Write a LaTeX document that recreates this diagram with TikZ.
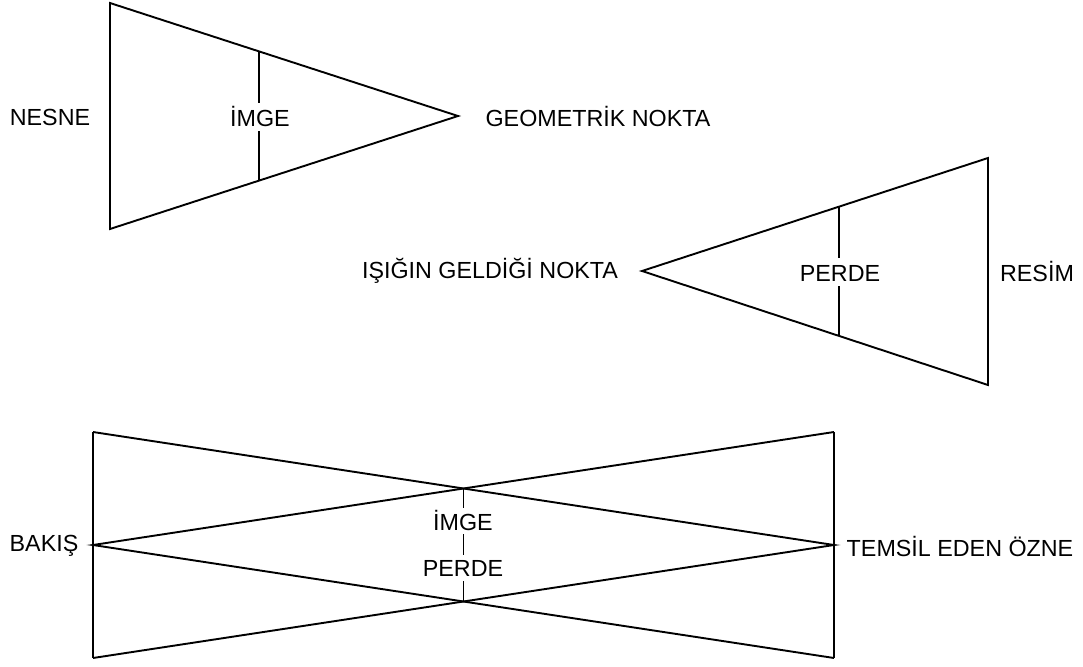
\documentclass[tikz,border=0pt]{standalone}
\usepackage{fontspec}
\setmainfont{Liberation Sans}
\begin{document}
\begin{tikzpicture}[x=1pt,y=-1pt,
  edge/.style={line width=1.9pt, line join=miter},
  lbl/.style={font=\fontsize{23.3}{27}\selectfont, inner sep=0pt},
  gaplbl/.style={lbl, text height=18pt, text depth=0pt, inner ysep=5pt}]
\useasboundingbox (0,0) rectangle (1083,666);
% top triangle
\coordinate (a1) at (110,3);
\coordinate (a2) at (110,229);
\coordinate (a3) at (458,116);
\draw[edge] (a1) -- (a3) -- (a2) -- cycle;
\coordinate (a4) at (259,51.6);
\coordinate (a5) at (259,180.4);
\node[gaplbl] (imge1) at (260,117) {İMGE};
\draw[edge] (a4) -- (a4 |- imge1.north);
\draw[edge] (a5) -- (a5 |- imge1.south);
\node[lbl] (nesne) at (50,117) {NESNE};
\node[lbl] (geo) at (598,117) {GEOMETRİK NOKTA};
% second triangle
\coordinate (b1) at (642,271);
\coordinate (b2) at (988,158);
\coordinate (b3) at (988,385);
\draw[edge] (b1) -- (b2) -- (b3) -- cycle;
\coordinate (b4) at (839,206.8);
\coordinate (b5) at (839,335.2);
\node[gaplbl] (perde1) at (840,272) {PERDE};
\draw[edge] (b4) -- (b4 |- perde1.north);
\draw[edge] (b5) -- (b5 |- perde1.south);
\node[lbl] (isik) at (490,271) {IŞIĞIN GELDİĞİ NOKTA};
\node[lbl] (resim) at (1037,272) {RESİM};
% bottom bow-tie
\coordinate (c1) at (93,432);
\coordinate (c2) at (93,545);
\coordinate (c3) at (93,658);
\coordinate (d1) at (834,432);
\coordinate (d2) at (834,545);
\coordinate (d3) at (834,658);
\draw[edge] (c1) -- (c3);
\draw[edge] (d1) -- (d3);
\draw[edge] (c1) -- (d2) -- (c3);
\draw[edge] (d1) -- (c2) -- (d3);
\coordinate (x1) at (463.5,488.5);
\coordinate (x2) at (463.5,601.5);
\node[lbl, text height=18pt, text depth=0pt, inner ysep=4pt] (imge2) at (463,521) {İMGE};
\node[lbl, text height=16.5pt, text depth=0pt, inner ysep=5pt] (perde2) at (463,568) {PERDE};
\draw[edge] (x1) -- (x1 |- imge2.north);
\draw[edge] (x1 |- imge2.south) -- (x1 |- perde2.north);
\draw[edge] (x2) -- (x2 |- perde2.south);
\node[lbl] (bakis) at (44,546) {BAKIŞ};
\node[lbl] (temsil) at (960,546) {TEMSİL EDEN ÖZNE};
\end{tikzpicture}
\end{document}
